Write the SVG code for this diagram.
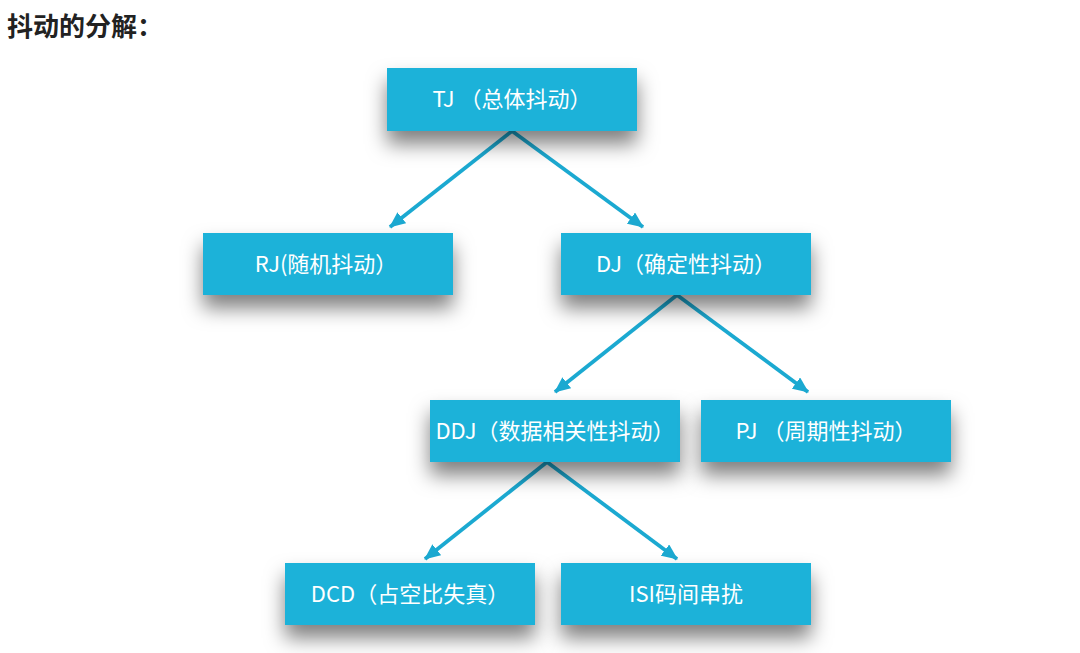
<svg xmlns="http://www.w3.org/2000/svg" width="1080" height="653" viewBox="0 0 1080 653">
  <defs>
    <filter id="shadow" x="-20%" y="-40%" width="140%" height="220%">
      <feDropShadow dx="0" dy="13" stdDeviation="10" flood-color="#000" flood-opacity="0.5"/>
    </filter>
    <marker id="arrow" viewBox="0 0 16 14" refX="15" refY="7" markerWidth="16" markerHeight="14" markerUnits="userSpaceOnUse" orient="auto">
      <path d="M0,0 L16,7 L0,14 Z" fill="#1ba9d1"/>
    </marker>
  </defs>
  <style>
    .box { fill: #1eb2d9; filter: url(#shadow); }
    .lbl { fill: #ffffff; font-family: "Noto Sans CJK SC", "Noto Sans", sans-serif; font-size: 22px; text-anchor: middle; }
    .title { fill: #222222; font-family: "Noto Sans CJK SC", sans-serif; font-size: 26px; font-weight: bold; }
    .conn { stroke: #1ba9d1; stroke-width: 3.8; fill: none; marker-end: url(#arrow); }
  </style>
  <rect width="1080" height="653" fill="#ffffff"/>
  <text class="title" x="7" y="36">抖动的分解：</text>

  <g id="connectors">
    <line class="conn" x1="512" y1="131" x2="390" y2="227"/>
    <line class="conn" x1="512" y1="131" x2="643" y2="227"/>
    <line class="conn" x1="677" y1="295" x2="555" y2="392"/>
    <line class="conn" x1="677" y1="295" x2="808" y2="392"/>
    <line class="conn" x1="547" y1="462" x2="425" y2="559"/>
    <line class="conn" x1="547" y1="462" x2="677" y2="559"/>
  </g>

  <g id="node-tj">
    <rect class="box" x="387" y="68" width="250" height="63"/>
    <text class="lbl" x="512" y="107">TJ （总体抖动）</text>
  </g>
  <g id="node-rj">
    <rect class="box" x="203" y="233" width="250" height="62"/>
    <text class="lbl" x="326" y="272">RJ(随机抖动）</text>
  </g>
  <g id="node-dj">
    <rect class="box" x="561" y="233" width="250" height="62"/>
    <text class="lbl" x="686" y="272">DJ（确定性抖动）</text>
  </g>
  <g id="node-ddj">
    <rect class="box" x="430" y="400" width="250" height="62"/>
    <text class="lbl" x="555" y="439">DDJ（数据相关性抖动）</text>
  </g>
  <g id="node-pj">
    <rect class="box" x="701" y="400" width="250" height="62"/>
    <text class="lbl" x="826" y="439">PJ （周期性抖动）</text>
  </g>
  <g id="node-dcd">
    <rect class="box" x="285" y="563" width="250" height="62"/>
    <text class="lbl" x="410" y="602">DCD（占空比失真）</text>
  </g>
  <g id="node-isi">
    <rect class="box" x="561" y="563" width="250" height="62"/>
    <text class="lbl" x="686" y="602">ISI码间串扰</text>
  </g>
</svg>
